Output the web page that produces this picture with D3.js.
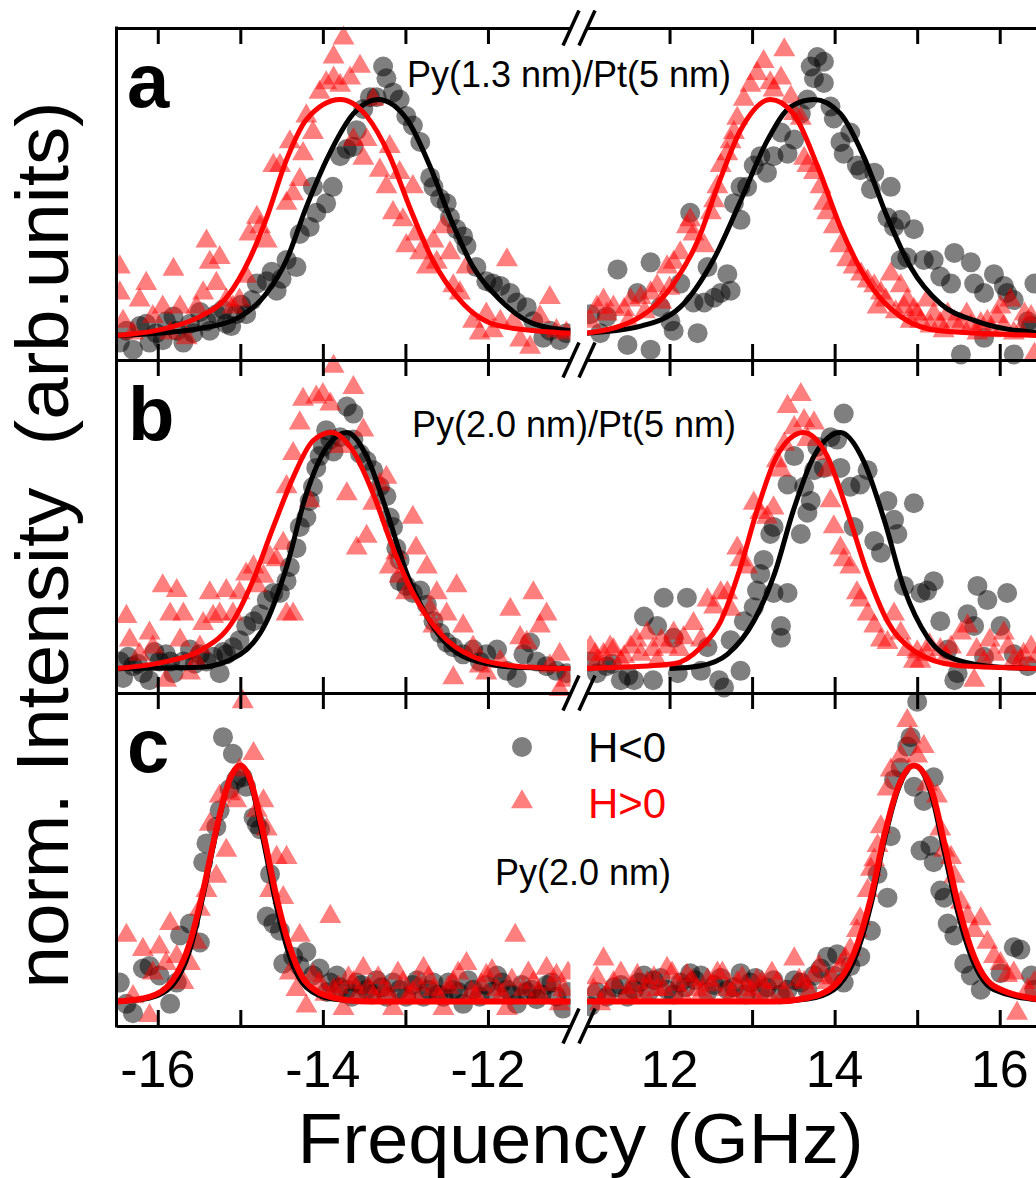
<!DOCTYPE html>
<html>
<head>
<meta charset="utf-8">
<script src="https://cdn.jsdelivr.net/npm/d3@7"></script>
<style>
body { margin: 0; background: #fff; }
svg { display: block; font-family: "Liberation Sans", Arial, sans-serif; }
</style>
</head>
<body>
<script>
// ---- data: [frequency GHz, normalised intensity] ----
const panelLabels = ["a", "b", "c"]
const panelNotes = ["Py(1.3 nm)/Pt(5 nm)", "Py(2.0 nm)/Pt(5 nm)", "Py(2.0 nm)"]
const legendLabels = ["H<0", "H>0"]
const tickValues = [-16, -15, -14, -13, -12, 12, 13, 14, 15, 16]
const tickLabels = [-16, -14, -12, 12, 14, 16]

// H<0 (circles), panel a
const aCircles = [[-16.46,-0.03],[-16.30,-0.06],[-16.22,0.04],[-16.10,-0.03],[-16.02,0.01],[-15.90,0.06],[-15.77,0.02],[-15.69,-0.03],[-15.57,0.01],[-15.41,0.06],[-15.29,0.09],[-15.17,0.05],[-15.05,0.09],[-14.93,0.09],[-14.80,0.22],[-14.68,0.23],[-14.56,0.19],[-14.44,0.32],[-14.32,0.29],[-14.28,0.43],[-14.16,0.46],[-14.08,0.52],[-14.12,0.63],[-13.96,0.56],[-13.88,0.63],[-13.79,0.76],[-13.71,0.79],[-13.63,0.80],[-13.59,0.87],[-13.51,0.96],[-13.43,1.01],[-13.35,1.01],[-13.27,1.14],[-13.23,1.09],[-13.15,1.03],[-13.07,1.00],[-12.99,0.93],[-12.91,0.89],[-12.82,0.82],[-12.70,0.67],[-12.66,0.63],[-12.58,0.58],[-12.50,0.56],[-12.46,0.50],[-12.38,0.45],[-12.30,0.42],[-12.26,0.38],[-12.14,0.29],[-12.02,0.23],[-11.94,0.22],[-11.85,0.21],[-11.73,0.18],[-11.65,0.14],[-11.53,0.12],[-11.45,0.06],[-11.33,-0.01],[-11.25,0.02],[-11.13,-0.02],[-11.05,0.01],
  [-16.38,0.02],[-16.14,0.05],[-15.94,-0.02],[-15.81,0.08],[-15.61,0.05],[-15.49,0.10],[-15.37,0.02],[-15.21,0.11],[-15.11,0.04],[-14.99,0.13],[-14.86,0.15],[-14.62,0.27],[-14.50,0.24],
  [11.04,0.09],[11.16,0.01],[11.24,0.08],[11.37,0.28],[11.49,-0.04],[11.61,0.18],[11.77,0.31],[11.77,-0.06],[11.89,0.12],[12.01,0.06],[12.05,0.02],[12.13,0.22],[12.25,0.52],[12.29,0.14],[12.34,0.01],[12.42,0.14],[12.46,0.29],[12.54,0.16],[12.62,0.18],[12.70,0.26],[12.74,0.19],[12.78,0.56],[12.86,0.63],[12.86,0.49],[12.94,0.63],[13.02,0.72],[13.10,0.76],[13.18,0.69],[13.26,0.76],[13.35,0.86],[13.43,0.77],[13.51,0.83],[13.59,0.94],[13.67,1.00],[13.71,1.14],[13.75,1.09],[13.79,1.18],[13.87,1.16],[13.87,1.07],[13.95,0.97],[13.99,0.92],[14.07,0.82],[14.11,0.77],[14.19,0.86],[14.27,0.72],[14.31,0.70],[14.44,0.62],[14.48,0.69],[14.64,0.50],[14.68,0.63],[14.72,0.46],[14.80,0.49],[14.80,0.32],[14.88,0.33],[14.96,0.45],[15.08,0.32],[15.20,0.32],[15.28,0.25],[15.41,0.22],[15.45,0.35],[15.53,-0.08],[15.65,0.31],[15.69,0.22],[15.81,0.18],[15.81,-0.01],[15.93,0.26],[16.05,0.21],[16.09,0.18],[16.17,0.15],[16.17,-0.08],[16.34,0.06],[16.38,0.04],[16.42,0.22]]

// H>0 (triangles), panel a
const aTriangles = [[-16.46,0.29],[-16.46,0.18],[-16.42,0.06],[-16.30,0.01],[-16.22,0.15],[-16.14,0.22],[-16.06,0.08],[-15.94,0.12],[-15.85,0.01],[-15.81,0.28],[-15.73,0.12],[-15.65,-0.01],[-15.53,0.12],[-15.45,0.18],[-15.41,0.40],[-15.37,0.31],[-15.29,0.22],[-15.25,0.33],[-15.17,0.15],[-15.09,0.12],[-15.01,0.15],[-14.93,0.25],[-14.89,0.43],[-14.80,0.50],[-14.76,0.46],[-14.68,0.40],[-14.60,0.72],[-14.52,0.72],[-14.44,0.56],[-14.40,0.82],[-14.36,0.60],[-14.28,0.66],[-14.24,0.77],[-14.20,0.93],[-14.12,0.86],[-14.04,1.03],[-13.96,1.07],[-13.87,1.09],[-13.87,1.18],[-13.79,1.06],[-13.75,1.26],[-13.67,1.09],[-13.63,0.83],[-13.55,1.14],[-13.51,0.75],[-13.47,0.83],[-13.39,1.00],[-13.31,0.70],[-13.23,0.63],[-13.19,0.80],[-13.15,0.52],[-13.07,0.69],[-13.03,0.49],[-12.99,0.38],[-12.91,0.63],[-12.87,0.43],[-12.82,0.35],[-12.74,0.29],[-12.66,0.40],[-12.62,0.31],[-12.54,0.46],[-12.46,0.35],[-12.42,0.21],[-12.34,0.18],[-12.26,0.29],[-12.18,0.06],[-12.10,0.01],[-12.02,0.09],[-11.94,0.02],[-11.85,0.06],[-11.77,0.32],[-11.69,0.06],[-11.61,-0.02],[-11.49,-0.05],[-11.37,0.08],[-11.25,0.16],[-11.17,0.02],[-11.05,0.01],
  [11.04,0.06],[11.12,0.12],[11.20,0.15],[11.24,0.09],[11.32,0.12],[11.45,0.11],[11.53,0.15],[11.65,0.16],[11.77,0.18],[11.85,0.21],[11.97,0.29],[12.05,0.31],[12.13,0.35],[12.21,0.46],[12.25,0.49],[12.29,0.43],[12.42,0.38],[12.50,0.52],[12.54,0.57],[12.58,0.63],[12.62,0.72],[12.70,0.77],[12.74,0.82],[12.78,0.86],[12.82,0.92],[12.90,1.00],[12.98,1.06],[13.06,1.11],[13.14,1.16],[13.22,1.07],[13.26,1.04],[13.35,1.09],[13.39,1.21],[13.47,1.01],[13.51,0.94],[13.59,0.92],[13.63,0.75],[13.67,0.72],[13.75,0.69],[13.83,0.63],[13.87,0.56],[13.91,0.52],[13.99,0.46],[14.07,0.38],[14.15,0.32],[14.23,0.29],[14.32,0.26],[14.40,0.23],[14.48,0.21],[14.56,0.18],[14.68,0.26],[14.80,0.21],[14.88,0.15],[14.96,0.11],[15.04,0.06],[15.12,0.15],[15.20,0.09],[15.28,0.05],[15.37,0.09],[15.53,0.05],[15.65,0.04],[15.73,0.01],[15.85,0.06],[15.97,0.08],[16.01,0.12],[16.13,0.15],[16.17,0.01],[16.25,0.02],[16.38,0.08],[16.42,-0.08],
  [11.50,0.06],[11.70,0.10],[11.90,0.14],[12.00,0.20],[14.52,0.12],[14.62,0.15],[14.74,0.10],[14.84,0.12],[14.92,0.06],[15.00,0.09],[15.16,0.04],[15.32,0.02],[15.45,0.06],[15.60,0.09],[15.77,0.05],[15.90,0.02],[16.05,0.04],[16.30,0.09]]

const bCircles = [[-16.46,0.03],[-16.42,-0.04],[-16.30,0.01],[-16.18,-0.02],[-16.10,-0.05],[-15.98,0.03],[-15.90,0.06],[-15.81,-0.02],[-15.69,0.03],[-15.61,0.08],[-15.49,0.06],[-15.41,0.03],[-15.25,-0.02],[-15.17,0.06],[-15.09,0.09],[-15.01,0.12],[-14.93,0.18],[-14.84,0.20],[-14.76,0.23],[-14.68,0.29],[-14.60,0.32],[-14.52,0.32],[-14.44,0.37],[-14.40,0.43],[-14.32,0.51],[-14.28,0.60],[-14.20,0.64],[-14.16,0.71],[-14.12,0.77],[-14.08,0.85],[-14.04,0.90],[-14.00,0.94],[-13.96,1.01],[-13.91,0.97],[-13.87,0.92],[-13.79,0.98],[-13.71,1.11],[-13.63,1.08],[-13.63,0.97],[-13.55,0.91],[-13.47,0.88],[-13.39,0.84],[-13.31,0.77],[-13.23,0.73],[-13.19,0.64],[-13.15,0.60],[-13.11,0.51],[-13.07,0.46],[-13.07,0.37],[-12.99,0.35],[-12.91,0.32],[-12.82,0.33],[-12.74,0.27],[-12.66,0.20],[-12.58,0.15],[-12.50,0.11],[-12.42,0.09],[-12.30,0.06],[-12.18,0.08],[-12.10,0.03],[-12.02,0.06],[-11.89,0.08],[-11.77,-0.01],[-11.65,-0.04],[-11.57,0.06],[-11.49,0.11],[-11.41,0.03],[-11.29,0.01],[-11.17,-0.01],[-11.05,-0.02],
  [-16.36,0.05],[-16.24,0.02],[-16.04,0.07],[-15.85,0.03],[-15.55,0.02],[-15.33,0.05],[-15.21,0.07],
  [11.04,0.03],[11.12,-0.02],[11.24,0.01],[11.41,-0.05],[11.57,-0.05],[11.69,0.22],[11.85,0.18],[11.93,0.30],[12.05,0.13],[12.21,0.30],[12.38,-0.01],[12.46,0.09],[12.66,-0.08],[12.74,0.12],[12.86,-0.01],[12.90,0.20],[13.02,0.26],[13.06,0.33],[13.10,0.40],[13.14,0.46],[13.22,0.57],[13.26,0.60],[13.26,0.32],[13.35,0.18],[13.35,0.13],[13.43,0.32],[13.43,0.78],[13.51,0.90],[13.59,0.57],[13.63,0.77],[13.67,0.66],[13.71,0.71],[13.75,0.84],[13.79,0.94],[13.87,0.85],[13.95,0.98],[14.03,0.97],[14.07,0.85],[14.11,1.08],[14.19,0.77],[14.23,0.60],[14.31,0.78],[14.40,0.84],[14.48,0.54],[14.56,0.49],[14.64,0.71],[14.72,0.63],[14.76,0.57],[14.84,0.35],[14.96,0.70],[15.04,0.32],[15.12,0.33],[15.20,0.37],[15.28,0.20],[15.37,0.08],[15.45,-0.05],[15.49,-0.02],[15.61,0.23],[15.69,0.18],[15.73,0.35],[15.81,0.05],[15.85,0.29],[16.01,0.18],[16.09,0.32],[16.17,0.06],[16.34,0.01],
  [11.30,0.02],[11.50,-0.03],[11.80,-0.05],[12.10,-0.02],[12.60,-0.05]]

const bTriangles = [[-16.38,0.22],[-16.34,0.12],[-16.22,0.06],[-16.10,0.15],[-16.06,0.09],[-15.94,0.35],[-15.90,-0.05],[-15.85,0.23],[-15.77,0.33],[-15.73,0.12],[-15.69,0.23],[-15.61,-0.02],[-15.53,0.03],[-15.49,0.09],[-15.45,0.19],[-15.37,0.32],[-15.33,0.22],[-15.25,0.23],[-15.17,0.33],[-15.09,0.23],[-15.01,0.32],[-14.93,0.40],[-14.84,0.43],[-14.80,0.35],[-14.72,0.39],[-14.64,0.47],[-14.56,0.46],[-14.48,0.53],[-14.44,0.23],[-14.36,0.23],[-14.44,0.77],[-14.36,0.91],[-14.28,1.04],[-14.24,1.14],[-14.16,0.71],[-14.08,1.15],[-14.00,1.16],[-13.91,1.12],[-13.87,1.28],[-13.79,0.94],[-13.71,0.74],[-13.63,1.19],[-13.59,0.51],[-13.51,1.01],[-13.47,0.56],[-13.39,0.70],[-13.31,0.78],[-13.23,0.81],[-13.19,0.43],[-13.11,0.49],[-13.07,0.39],[-12.99,0.32],[-12.91,0.64],[-12.87,0.51],[-12.74,0.43],[-12.70,0.25],[-12.66,0.18],[-12.62,0.32],[-12.50,0.23],[-12.42,-0.04],[-12.38,0.35],[-12.30,0.18],[-12.18,0.09],[-12.10,0.01],[-12.02,-0.02],[-11.85,0.03],[-11.73,0.25],[-11.61,0.13],[-11.53,0.11],[-11.45,0.32],[-11.37,0.18],[-11.29,0.23],[-11.25,0.01],[-11.13,0.06],[-11.13,-0.09],[-11.05,-0.05],
  [11.04,0.09],[11.12,0.03],[11.20,0.06],[11.32,0.08],[11.41,0.03],[11.53,0.09],[11.65,0.06],[11.73,0.15],[11.85,0.03],[11.97,0.09],[12.05,0.15],[12.17,0.13],[12.29,0.19],[12.38,0.12],[12.46,0.29],[12.54,0.26],[12.62,0.32],[12.70,0.32],[12.74,0.25],[12.82,0.51],[12.86,0.46],[12.94,0.43],[13.02,0.70],[13.10,0.66],[13.18,0.64],[13.26,0.68],[13.30,0.88],[13.35,0.84],[13.39,0.95],[13.43,1.11],[13.51,1.02],[13.59,1.16],[13.63,1.05],[13.67,0.97],[13.75,1.04],[13.83,0.91],[13.91,0.84],[13.95,0.71],[13.99,0.60],[14.07,0.51],[14.11,0.46],[14.19,0.43],[14.27,0.32],[14.31,0.29],[14.40,0.23],[14.48,0.18],[14.56,0.12],[14.64,0.11],[14.72,0.23],[14.80,0.15],[14.88,0.08],[14.96,0.03],[15.04,0.03],[15.12,0.06],[15.28,0.08],[15.41,0.09],[15.53,0.15],[15.61,0.18],[15.69,-0.05],[15.81,0.03],[15.93,0.06],[16.05,0.15],[16.17,0.03],[16.29,0.06],[16.38,0.09],
  [11.10,0.06],[11.28,0.09],[11.45,0.05],[11.60,0.12],[11.80,0.08],[11.90,0.12],[12.12,0.08],[15.00,0.07],[15.15,0.10],[15.35,0.05],[15.72,0.08],[15.88,0.12],[16.10,0.09],[16.25,0.03],[16.45,0.05]]

const cCircles = [[-16.46,0.08],[-16.38,-0.01],[-16.30,-0.05],[-16.18,0.14],[-16.10,0.15],[-15.98,0.11],[-15.85,-0.01],[-15.77,0.08],[-15.73,0.28],[-15.61,0.33],[-15.49,0.25],[-15.45,0.59],[-15.41,0.67],[-15.29,0.74],[-15.25,0.81],[-15.21,1.12],[-15.13,0.90],[-15.09,1.05],[-15.05,0.94],[-14.97,0.95],[-14.93,0.91],[-14.84,0.78],[-14.80,0.75],[-14.76,0.73],[-14.64,0.54],[-14.68,0.36],[-14.60,0.33],[-14.52,0.30],[-14.48,0.16],[-14.36,0.19],[-14.28,0.15],[-14.20,0.21],[-14.12,0.11],[-14.04,0.14],[-13.91,0.08],[-13.83,0.11],[-13.71,0.05],[-13.59,0.08],[-13.47,0.05],[-13.35,0.09],[-13.23,0.02],[-13.07,0.05],[-12.91,0.07],[-12.78,0.02],[-12.66,0.08],[-12.54,0.02],[-12.42,0.05],[-12.30,-0.01],[-12.18,0.05],[-12.02,0.07],[-11.89,0.11],[-11.77,0.05],[-11.65,-0.01],[-11.53,0.04],[-11.41,0.01],[-11.29,0.07],[-11.17,0.02],[-11.09,-0.03],
  [-13.95,0.04],[-13.79,0.06],[-13.65,0.02],[-13.53,0.07],[-13.41,0.03],[-13.29,0.06],[-13.15,0.08],[-12.99,0.02],[-12.86,0.09],[-12.72,0.05],[-12.60,0.03],[-12.48,0.08],[-12.36,0.04],[-12.24,0.09],[-12.10,0.02],[-11.95,0.04],[-11.83,0.08],[-11.71,0.03],[-11.59,0.07],[-11.47,0.05],[-11.35,0.03],[-11.23,0.08],[-11.03,0.04],
  [11.04,-0.02],[11.24,0.02],[11.41,0.07],[11.57,0.05],[11.69,0.11],[11.81,0.09],[11.97,0.05],[12.13,0.08],[12.25,0.12],[12.38,0.11],[12.54,0.07],[12.70,0.05],[12.86,0.12],[12.98,0.08],[13.10,0.04],[13.26,0.09],[13.43,0.05],[13.59,0.08],[13.75,0.11],[13.91,0.19],[13.99,0.11],[14.11,0.08],[14.19,0.15],[14.31,0.19],[14.44,0.30],[14.52,0.54],[14.64,0.44],[14.68,0.70],[14.72,0.94],[14.80,0.99],[14.88,1.08],[14.92,1.12],[15.00,1.27],[14.96,0.91],[15.08,0.85],[15.20,0.95],[15.04,0.64],[15.16,0.66],[15.20,0.59],[15.28,0.47],[15.33,0.44],[15.37,0.33],[15.45,0.28],[15.57,0.16],[15.65,0.11],[15.77,0.05],[16.01,0.12],[16.17,0.23],[16.25,0.22],[16.38,0.11],[16.42,0.05],
  [11.12,0.04],[11.33,0.06],[11.49,0.02],[11.63,0.08],[11.75,0.04],[11.89,0.10],[12.05,0.03],[12.19,0.06],[12.31,0.09],[12.46,0.04],[12.62,0.10],[12.78,0.06],[12.92,0.03],[13.04,0.10],[13.18,0.06],[13.34,0.03],[13.51,0.09],[13.67,0.05],[13.83,0.14],[14.03,0.20]]

const cTriangles = [[-16.38,0.28],[-16.30,0.02],[-16.18,0.22],[-16.10,-0.06],[-16.06,0.12],[-15.98,0.23],[-15.90,0.16],[-15.85,0.33],[-15.77,0.19],[-15.69,0.08],[-15.61,0.16],[-15.53,0.25],[-15.49,0.39],[-15.41,0.47],[-15.37,0.75],[-15.29,0.53],[-15.25,0.87],[-15.17,0.64],[-15.13,0.88],[-15.05,0.85],[-15.01,0.98],[-14.97,1.27],[-14.84,1.05],[-14.80,0.81],[-14.72,0.85],[-14.68,0.73],[-14.64,0.47],[-14.56,0.61],[-14.48,0.44],[-14.44,0.61],[-14.40,0.12],[-14.32,0.05],[-14.28,0.28],[-14.20,-0.02],[-14.12,0.11],[-14.04,0.08],[-13.91,0.36],[-13.87,0.05],[-13.75,-0.03],[-13.63,0.08],[-13.51,0.14],[-13.39,0.02],[-13.27,0.05],[-13.15,-0.03],[-13.03,0.08],[-12.91,0.04],[-12.78,0.14],[-12.66,0.05],[-12.54,-0.03],[-12.42,0.08],[-12.26,0.16],[-12.14,0.02],[-12.02,0.11],[-11.89,0.05],[-11.77,-0.03],[-11.67,0.28],[-11.57,0.05],[-11.45,0.08],[-11.29,0.14],[-11.17,0.11],[-11.13,-0.01],[-11.09,0.05],
  [-13.97,0.03],[-13.81,0.06],[-13.69,0.10],[-13.57,0.03],[-13.45,0.06],[-13.33,0.10],[-13.21,0.04],[-13.09,0.12],[-12.97,0.02],[-12.84,0.07],[-12.72,0.10],[-12.60,0.02],[-12.48,0.06],[-12.36,0.12],[-12.20,0.04],[-12.08,0.07],[-11.95,0.13],[-11.83,0.03],[-11.71,0.09],[-11.51,0.12],[-11.39,0.04],[-11.21,0.07],[-11.03,0.12],
  [11.08,0.05],[11.16,-0.01],[11.20,0.18],[11.32,0.08],[11.49,0.04],[11.61,0.11],[11.73,0.08],[11.85,0.05],[11.97,0.14],[12.09,0.07],[12.21,0.11],[12.33,0.05],[12.46,0.09],[12.58,0.12],[12.70,0.05],[12.82,0.08],[12.94,0.05],[13.06,0.09],[13.18,0.04],[13.30,0.08],[13.51,0.18],[13.63,0.08],[13.75,0.11],[13.91,0.08],[14.07,0.15],[14.19,0.22],[14.27,0.30],[14.31,0.35],[14.40,0.47],[14.44,0.56],[14.48,0.60],[14.52,0.66],[14.56,0.74],[14.64,0.90],[14.68,0.98],[14.80,1.04],[14.88,1.19],[14.92,1.12],[15.00,1.04],[15.08,1.08],[15.12,0.92],[15.24,0.87],[15.28,0.73],[15.33,0.64],[15.41,0.61],[15.45,0.53],[15.53,0.42],[15.61,0.36],[15.69,0.30],[15.77,0.35],[15.85,0.25],[15.93,0.19],[16.01,0.16],[16.09,0.11],[16.17,0.12],[16.21,-0.05],[16.34,0.05],[16.42,0.08],
  [11.12,0.10],[11.24,0.03],[11.41,0.12],[11.55,0.06],[11.69,0.03],[11.81,0.10],[11.93,0.05],[12.03,0.12],[12.15,0.03],[12.27,0.09],[12.40,0.04],[12.52,0.07],[12.64,0.12],[12.76,0.03],[12.88,0.10],[13.00,0.04],[13.12,0.08],[13.24,0.12],[13.40,0.04],[13.57,0.09],[13.69,0.04],[13.81,0.15],[13.97,0.10],[14.13,0.18]]

// fitted curves, sampled from the figure
const aFitBlack = [[-16.5,0],[-15.49,0.03],[-15.0,0.08],[-14.68,0.18],[-14.44,0.32],[-14.2,0.545],[-13.92,0.77],[-13.63,0.94],[-13.33,1.0],[-12.98,0.915],[-12.7,0.715],[-12.46,0.5],[-12.18,0.29],[-11.85,0.15],[-11.45,0.05],[-11,0.02],
  [11,0.01],[11.65,0.04],[12.13,0.12],[12.53,0.32],[12.86,0.57],[13.19,0.83],[13.47,0.97],[13.75,1.0],[14.07,0.94],[14.35,0.76],[14.64,0.5],[14.92,0.29],[15.28,0.135],[15.69,0.064],[16.5,0.01]]
const aFitRed = [[-16.5,0],[-15.9,0.03],[-15.49,0.08],[-15.17,0.16],[-14.88,0.33],[-14.68,0.5],[-14.44,0.745],[-14.2,0.915],[-13.79,1.0],[-13.47,0.93],[-13.19,0.76],[-12.95,0.545],[-12.67,0.32],[-12.34,0.15],[-11.85,0.04],[-11,0.01],
  [11,0.01],[11.65,0.08],[12.05,0.22],[12.34,0.4],[12.58,0.63],[12.86,0.87],[13.22,1.0],[13.5,0.94],[13.79,0.72],[14.07,0.46],[14.4,0.23],[14.8,0.08],[15.28,0.02],[16.5,0]]
const bFitBlack = [[-16.5,0],[-15.49,0.005],[-15.0,0.06],[-14.68,0.2],[-14.44,0.43],[-14.2,0.74],[-13.95,0.94],[-13.71,1.0],[-13.47,0.9],[-13.23,0.67],[-12.98,0.4],[-12.66,0.175],[-12.26,0.045],[-11.65,0.005],[-11,0],
  [12,0],[12.38,0.012],[12.7,0.06],[13.02,0.2],[13.27,0.4],[13.5,0.67],[13.75,0.9],[14.07,1.0],[14.35,0.88],[14.6,0.63],[14.84,0.34],[15.13,0.13],[15.49,0.035],[16.01,0.005],[16.5,0]]
const bFitRed = [[-16.5,0],[-15.89,0.03],[-15.49,0.075],[-15.09,0.2],[-14.85,0.37],[-14.6,0.6],[-14.36,0.81],[-14.12,0.965],[-13.9,1.0],[-13.63,0.92],[-13.39,0.74],[-13.15,0.51],[-12.91,0.32],[-12.58,0.15],[-12.18,0.05],[-11.65,0.01],[-11,0],
  [11,0],[12.05,0.02],[12.38,0.09],[12.62,0.2],[12.86,0.43],[13.06,0.67],[13.3,0.9],[13.62,1.0],[13.91,0.9],[14.15,0.67],[14.4,0.4],[14.64,0.2],[14.96,0.075],[15.49,0.013],[16.5,0]]
const cFitBlack = [[-16.5,0],[-16.1,0.015],[-15.82,0.07],[-15.61,0.22],[-15.45,0.45],[-15.29,0.72],[-15.13,0.94],[-15.0,1.0],[-14.88,0.93],[-14.72,0.68],[-14.56,0.4],[-14.4,0.19],[-14.2,0.06],[-13.88,0.01],[-13.47,0],[-11,0],
  [11,0],[13.27,0],[13.67,0.01],[13.99,0.05],[14.23,0.17],[14.44,0.41],[14.6,0.68],[14.77,0.9],[14.96,1.0],[15.17,0.88],[15.33,0.63],[15.49,0.38],[15.69,0.16],[15.93,0.05],[16.5,0.005]]
const cFitRed = [[-16.5,0],[-16.1,0.02],[-15.82,0.09],[-15.61,0.25],[-15.45,0.47],[-15.29,0.73],[-15.13,0.94],[-15.0,1.0],[-14.88,0.94],[-14.72,0.71],[-14.56,0.44],[-14.4,0.23],[-14.2,0.08],[-13.88,0.017],[-13.47,0],[-11,0],
  [11,0],[13.27,0],[13.67,0.015],[13.99,0.065],[14.23,0.2],[14.44,0.44],[14.6,0.7],[14.77,0.91],[14.96,1.0],[15.17,0.9],[15.33,0.67],[15.49,0.42],[15.69,0.19],[15.93,0.065],[16.5,0.008]]

const panelData = [
  { circles: aCircles, triangles: aTriangles, fitBlack: aFitBlack, fitRed: aFitRed },
  { circles: bCircles, triangles: bTriangles, fitBlack: bFitBlack, fitRed: bFitRed },
  { circles: cCircles, triangles: cTriangles, fitBlack: cFitBlack, fitRed: cFitRed }
]

// ---- layout ----
const W = 1036, H = 1178
const x0 = 116.5, xGapL = 570.5, xGapR = 587, x1 = 1041
const rows = [[28, 360], [360, 693], [693, 1026]]
const notePos = [[407, 87], [412, 437], [495, 885]]
const labelPos = [[127, 107], [128, 440], [127, 772]]

const xL = d3.scaleLinear().domain([-16.5, -11]).range([x0, xGapL])
const xR = d3.scaleLinear().domain([11, 16.5]).range([xGapR, x1])
const xOf = f => f < 0 ? xL(f) : xR(f)

const svg = d3.select("body").append("svg").attr("width", W).attr("height", H)
svg.append("rect").attr("width", W).attr("height", H).attr("fill", "#fff")

const defs = svg.append("defs")
defs.append("clipPath").attr("id", "clipL").append("rect")
  .attr("x", x0).attr("y", 0).attr("width", xGapL - x0).attr("height", H)
defs.append("clipPath").attr("id", "clipR").append("rect")
  .attr("x", xGapR).attr("y", 0).attr("width", x1 - xGapR).attr("height", H)

const tri = d3.symbol(d3.symbolTriangle, 210)

panelData.forEach((p, i) => {
  const [top, bottom] = rows[i]
  const y = d3.scaleLinear()
    .domain([-24.5 / 236, (bottom - top - 24.5) / 236])
    .range([bottom, top])
  const line = d3.line().x(d => xOf(d[0])).y(d => y(d[1])).curve(d3.curveMonotoneX)

  ;[["clipL", d => d[0] < 0], ["clipR", d => d[0] > 0]].forEach(([clip, keep]) => {
    const g = svg.append("g").attr("clip-path", `url(#${clip})`)
    g.selectAll("circle").data(p.circles.filter(keep)).join("circle")
      .attr("cx", d => xOf(d[0])).attr("cy", d => y(d[1])).attr("r", 10)
      .attr("fill", "#000").attr("fill-opacity", 0.5)
    g.selectAll("path.tri").data(p.triangles.filter(keep)).join("path")
      .attr("class", "tri")
      .attr("transform", d => `translate(${xOf(d[0])},${y(d[1])})`)
      .attr("d", tri)
      .attr("fill", "#ff0000").attr("fill-opacity", 0.5)
    g.append("path").datum(p.fitBlack.filter(keep)).attr("d", line)
      .attr("fill", "none").attr("stroke", "#000").attr("stroke-width", 5)
    g.append("path").datum(p.fitRed.filter(keep)).attr("d", line)
      .attr("fill", "none").attr("stroke", "#ff0000").attr("stroke-width", i === 2 ? 6 : 5)
  })
})

// axes: inward ticks top and bottom of each panel
const axisG = svg.append("g")
rows.forEach(([top, bottom]) => {
  ;[xL, xR].forEach(sc => {
    const vals = tickValues.filter(v => v >= sc.domain()[0] && v <= sc.domain()[1])
    axisG.append("g").attr("transform", `translate(0,${top})`)
      .call(d3.axisTop(sc).tickValues(vals).tickSizeInner(-16).tickSizeOuter(0).tickFormat(""))
    axisG.append("g").attr("transform", `translate(0,${bottom})`)
      .call(d3.axisBottom(sc).tickValues(vals).tickSizeInner(-16).tickSizeOuter(0).tickFormat(""))
  })
})
axisG.selectAll(".domain").attr("stroke", "#000").attr("stroke-width", 3)
axisG.selectAll(".tick line").attr("stroke", "#000").attr("stroke-width", 3)

axisG.append("line").attr("x1", x0).attr("x2", x0).attr("y1", rows[0][0] - 1.5).attr("y2", rows[2][1] + 1.5)
  .attr("stroke", "#000").attr("stroke-width", 3)

// axis break marks
;[rows[0][0], rows[0][1], rows[1][1], rows[2][1]].forEach(yb => {
  ;[571, 587].forEach(xb => {
    axisG.append("line")
      .attr("x1", xb + 8).attr("y1", yb - 17.5).attr("x2", xb - 8).attr("y2", yb + 17.5)
      .attr("stroke", "#000").attr("stroke-width", 3.5)
  })
})

// tick labels
svg.append("g").selectAll("text").data(tickLabels).join("text")
  .attr("x", d => xOf(d)).attr("y", 1087)
  .attr("text-anchor", "middle").attr("font-size", 52)
  .text(d => d < 0 ? "-" + Math.abs(d) : d)

// axis titles
svg.append("text").attr("x", 580.5).attr("y", 1163).attr("text-anchor", "middle")
  .attr("font-size", 70).attr("textLength", 566).attr("lengthAdjust", "spacingAndGlyphs")
  .text("Frequency (GHz)")
svg.append("text").attr("transform", "translate(68,545) rotate(-90)").attr("text-anchor", "middle")
  .attr("font-size", 74).attr("textLength", 887).attr("lengthAdjust", "spacingAndGlyphs")
  .attr("xml:space", "preserve").style("white-space", "pre")
  .text("norm. Intensity  (arb.units)")

// panel letters and notes
panelLabels.forEach((l, i) => {
  svg.append("text").attr("x", labelPos[i][0]).attr("y", labelPos[i][1])
    .attr("font-size", 76).attr("font-weight", "bold").text(l)
  svg.append("text").attr("x", notePos[i][0]).attr("y", notePos[i][1])
    .attr("font-size", 36).text(panelNotes[i])
})

// legend
svg.append("circle").attr("cx", 522).attr("cy", 747).attr("r", 10)
  .attr("fill", "#000").attr("fill-opacity", 0.5)
svg.append("path").attr("transform", "translate(522,802)").attr("d", tri)
  .attr("fill", "#ff0000").attr("fill-opacity", 0.5)
svg.append("text").attr("x", 588).attr("y", 762).attr("font-size", 42).attr("fill", "#000").text(legendLabels[0])
svg.append("text").attr("x", 588).attr("y", 818).attr("font-size", 42).attr("fill", "#ff0000").text(legendLabels[1])
</script>
</body>
</html>
